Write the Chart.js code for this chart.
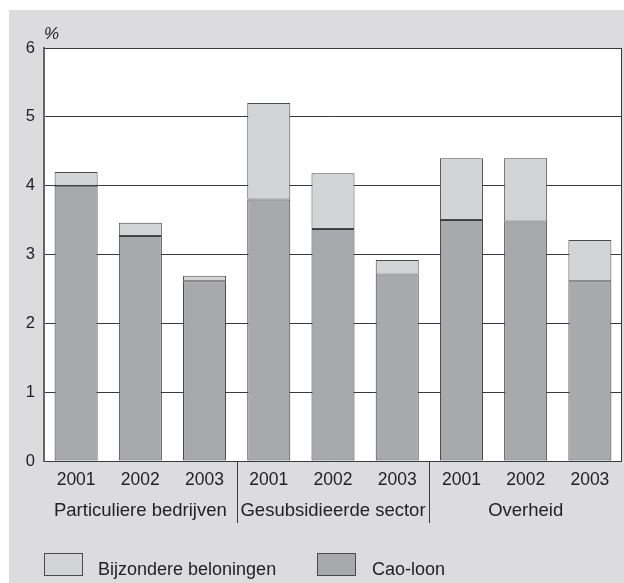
<!DOCTYPE html>
<html>
<head>
<meta charset="utf-8">
<script src="https://cdn.jsdelivr.net/npm/chart.js@4/dist/chart.umd.min.js"></script>
<style>
  html, body { margin: 0; padding: 0; background: #ffffff; }
  body { width: 624px; height: 583px; position: relative; overflow: hidden; font-family: "Liberation Sans", Arial, sans-serif; }
  #panel { position: absolute; left: 9px; top: 10px; width: 615px; height: 573px; background: #dcdcde; }
  #chart-wrap { position: absolute; left: 0; top: 0; width: 615px; height: 573px; }
  .legend-box { position: absolute; top: 543px; width: 37px; height: 21px; border: 1px solid #4a4a4a; }
  .legend-text { position: absolute; top: 548px; font-size: 18px; line-height: 22px; color: #222; white-space: nowrap; }
</style>
</head>
<body>
<div id="panel">
  <div id="chart-wrap"><canvas id="loonChart"></canvas></div>
  <span class="legend-box" style="left:35px; background:#d3d4d6;"></span>
  <span class="legend-text" style="left:89px;">Bijzondere beloningen</span>
  <span class="legend-box" style="left:308px; background:#a8a9ac;"></span>
  <span class="legend-text" style="left:363px;">Cao-loon</span>
</div>
<script>
// Data
const years = ['2001', '2002', '2003', '2001', '2002', '2003', '2001', '2002', '2003'];
const sectors = ['Particuliere bedrijven', 'Gesubsidieerde sector', 'Overheid'];
const caoLoon = [4.0, 3.27, 2.61, 3.8, 3.37, 2.71, 3.5, 3.48, 2.61];
const bijzondereBeloningen = [0.2, 0.19, 0.08, 1.4, 0.81, 0.21, 0.9, 0.92, 0.6];
const yTicks = [0, 1, 2, 3, 4, 5, 6];

const darkLine = '#3a3a3a';
const fontFamily = '"Liberation Sans", Arial, sans-serif';

// White plot area + frame, "%" label, sector labels and separators
const decorPlugin = {
    id: 'decor',
    beforeDraw(chart) {
        const { ctx, chartArea } = chart;
        ctx.save();
        ctx.fillStyle = '#ffffff';
        ctx.fillRect(chartArea.left, chartArea.top, chartArea.right - chartArea.left, chartArea.bottom - chartArea.top);
        ctx.restore();
    },
    afterDraw(chart) {
        const { ctx, chartArea } = chart;
        const x = chart.scales.x;
        ctx.save();
        ctx.strokeStyle = darkLine;
        ctx.lineWidth = 1;
        ctx.beginPath();
        ctx.moveTo(chartArea.left, chartArea.top + 0.5);
        ctx.lineTo(chartArea.right - 0.5, chartArea.top + 0.5);
        ctx.lineTo(chartArea.right - 0.5, chartArea.bottom);
        ctx.stroke();

        // % unit label
        ctx.fillStyle = '#222';
        ctx.font = 'italic 17px ' + fontFamily;
        ctx.textAlign = 'left';
        ctx.textBaseline = 'middle';
        ctx.fillText('%', chartArea.left, chartArea.top - 14);

        // sector labels under each group of three years
        ctx.font = '18.5px ' + fontFamily;
        ctx.textAlign = 'center';
        ctx.textBaseline = 'alphabetic';
        sectors.forEach((name, i) => {
            const cx = x.getPixelForValue(i * 3 + 1);
            ctx.fillText(name, cx, chartArea.bottom + 55);
        });

        // vertical separators between sectors
        ctx.strokeStyle = darkLine;
        for (let i = 1; i < sectors.length; i++) {
            const left = x.getPixelForValue(i * 3 - 1);
            const right = x.getPixelForValue(i * 3);
            const sx = Math.round((left + right) / 2) + 0.5;
            ctx.beginPath();
            ctx.moveTo(sx, chartArea.bottom);
            ctx.lineTo(sx, chartArea.bottom + 62);
            ctx.stroke();
        }
        ctx.restore();
    }
};

const ctx = document.getElementById('loonChart').getContext('2d');
new Chart(ctx, {
    type: 'bar',
    data: {
        labels: years,
        datasets: [
            {
                label: 'Cao-loon',
                data: caoLoon,
                backgroundColor: '#a8a9ac',
                borderColor: darkLine,
                borderWidth: 1,
                borderSkipped: false
            },
            {
                label: 'Bijzondere beloningen',
                data: bijzondereBeloningen,
                backgroundColor: '#d3d4d6',
                borderColor: '#4a4a4a',
                borderWidth: 1,
                borderSkipped: false
            }
        ]
    },
    options: {
        responsive: true,
        maintainAspectRatio: false,
        animation: false,
        devicePixelRatio: 1,
        layout: { padding: { top: 38, right: 2, left: 0, bottom: 0 } },
        datasets: {
            bar: { categoryPercentage: 1.0, barPercentage: 0.67 }
        },
        scales: {
            x: {
                stacked: true,
                grid: { display: false },
                border: { display: false },
                ticks: { color: '#222', font: { family: fontFamily, size: 17.5 }, padding: 1, maxRotation: 0 },
                afterFit(scale) { scale.height = 122; }
            },
            y: {
                stacked: true,
                min: 0,
                max: 6,
                afterBuildTicks(scale) { scale.ticks = yTicks.map(v => ({ value: v })); },
                grid: { color: darkLine, lineWidth: 1, drawTicks: false },
                border: { color: '#666', width: 2 },
                ticks: { color: '#222', font: { family: fontFamily, size: 16.5 }, padding: 9 },
                afterFit(scale) { scale.width = 35; }
            }
        },
        plugins: {
            legend: { display: false },
            tooltip: { enabled: false }
        }
    },
    plugins: [decorPlugin]
});
</script>
</body>
</html>
